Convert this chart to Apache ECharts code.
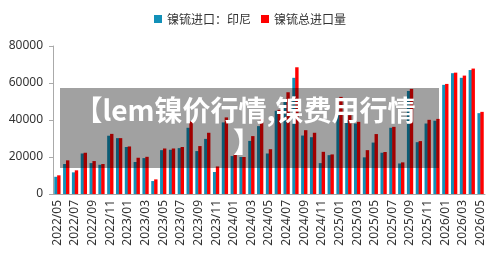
<!DOCTYPE html>
<html>
<head>
<meta charset="utf-8">
<title>镍锍进口</title>
<script src="https://cdn.jsdelivr.net/npm/echarts@6/dist/echarts.min.js"></script>
<style>
  html, body { margin: 0; padding: 0; background: #fff; }
  #chart { width: 500px; height: 257px; }
</style>
</head>
<body>
<div id="chart"></div>
<script>
// 月份
var months = [
  '2022/05','2022/06','2022/07','2022/08','2022/09','2022/10','2022/11','2022/12',
  '2023/01','2023/02','2023/03','2023/04','2023/05','2023/06','2023/07','2023/08',
  '2023/09','2023/10','2023/11','2023/12','2024/01','2024/02','2024/03','2024/04',
  '2024/05','2024/06','2024/07','2024/08','2024/09','2024/10','2024/11','2024/12',
  '2025/01','2025/02','2025/03','2025/04','2025/05','2025/06','2025/07','2025/08',
  '2025/09','2025/10','2025/11','2025/12','2026/01','2026/02','2026/03','2026/04',
  '2026/05'
];
// 镍锍进口：印尼
var indonesia = [
  9300, 16200, 11700, 21900, 16700, 15800, 31500, 30200,
  25400, 17300, 19400, 7000, 23700, 23900, 24800, 35800,
  23200, 29800, 11900, 38700, 20500, 20000, 28700, 36700,
  21900, 45000, 50000, 62800, 31600, 30700, 16700, 21000,
  45300, 39900, 38100, 19800, 27800, 22300, 35800, 16500,
  55700, 28000, 38100, 39600, 59000, 65300, 62800, 67000,
  43700
];
// 镍锍总进口量
var total = [
  10100, 18200, 12800, 22300, 17800, 16200, 32500, 30200,
  25700, 19600, 20100, 7900, 24600, 24600, 25400, 39400,
  25900, 33100, 14900, 41400, 21200, 20000, 31300, 40500,
  24200, 45500, 55000, 68500, 34500, 33100, 22800, 21400,
  52500, 42600, 39000, 23700, 32400, 22700, 36300, 17100,
  56800, 28600, 40100, 40600, 59500, 65600, 64000, 67800,
  44400
];
var yTicks = [0, 20000, 40000, 60000, 80000];

var chart = echarts.init(document.getElementById('chart'));

var option = {
  animation: false,
  legend: {
    top: 8,
    left: 'center',
    itemWidth: 8,
    itemHeight: 8,
    itemGap: 10,
    icon: 'rect',
    textStyle: { fontSize: 12, color: '#333', fontFamily: 'Noto Sans CJK SC' },
    data: ['镍锍进口：印尼', '镍锍总进口量']
  },
  grid: { left: 53, right: 15, top: 46, bottom: 63 },
  xAxis: {
    type: 'category',
    data: months,
    axisLine: { lineStyle: { color: '#aaa' } },
    axisTick: { interval: 1, length: 4, lineStyle: { color: '#aaa' } },
    axisLabel: {
      interval: 1,
      rotate: 90,
      fontSize: 12,
      color: '#333',
      margin: 6,
      fontFamily: 'Noto Sans'
    }
  },
  yAxis: {
    type: 'value',
    min: yTicks[0],
    max: yTicks[yTicks.length - 1],
    interval: 20000,
    splitLine: { show: false },
    axisLine: { show: true, lineStyle: { color: '#aaa' } },
    axisTick: { show: true, length: 4, lineStyle: { color: '#aaa' } },
    axisLabel: {
      fontSize: 12, color: '#333', margin: 10, fontFamily: 'Noto Sans',
      formatter: function (v) { return String(v); }
    }
  },
  series: [
    {
      name: '镍锍进口：印尼',
      type: 'bar',
      data: indonesia,
      barWidth: 3.4,
      barGap: '-15%',
      itemStyle: { color: '#1290b8' }
    },
    {
      name: '镍锍总进口量',
      type: 'bar',
      data: total,
      barWidth: 3.4,
      itemStyle: { color: '#ff0000' }
    }
  ],
  graphic: [
    {
      type: 'rect',
      z: 100,
      shape: { x: 60, y: 88, width: 379, height: 80 },
      style: { fill: 'rgba(0,0,0,0.37)' }
    },
    {
      type: 'text',
      z: 101,
      style: {
        text: '【lem镍价行情,镍费用行情',
        x: 245,
        y: 110,
        align: 'center',
        verticalAlign: 'middle',
        fill: '#fff',
        font: 'bold 28px "Noto Sans CJK SC"'
      }
    },
    {
      type: 'text',
      z: 101,
      style: {
        text: '】',
        x: 247,
        y: 142,
        align: 'center',
        verticalAlign: 'middle',
        fill: '#fff',
        font: 'bold 28px "Noto Sans CJK SC"'
      }
    }
  ]
};

chart.setOption(option);
</script>
</body>
</html>
